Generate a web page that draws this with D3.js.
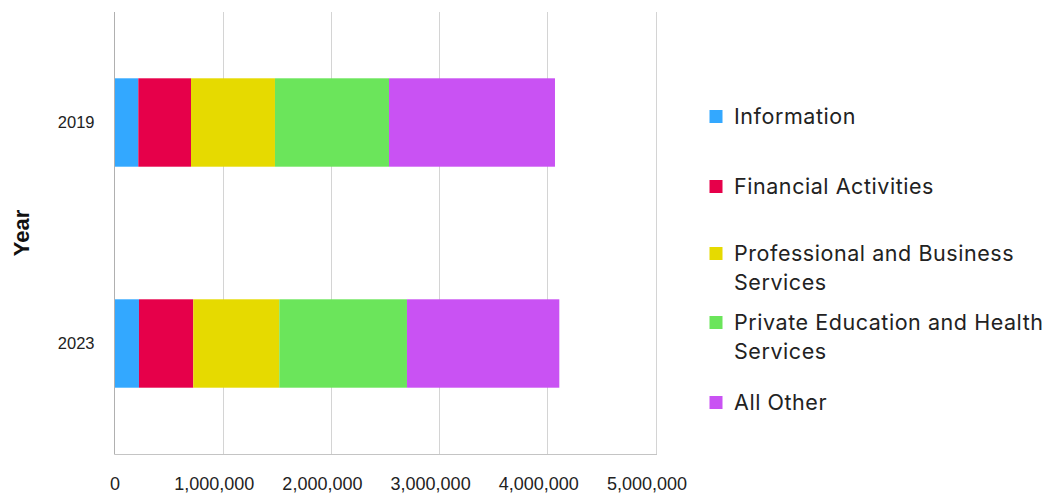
<!DOCTYPE html>
<html>
<head>
<meta charset="utf-8">
<script src="https://cdn.jsdelivr.net/npm/d3@7"></script>
<style>
  html, body { margin: 0; padding: 0; background: #fff; }
  svg { display: block; }
</style>
</head>
<body>
<svg id="chart" width="1049" height="494"></svg>
<script>
// ---- data ----
const years = ["2019", "2023"];
const seriesNames = [
  "Information",
  "Financial Activities",
  "Professional and Business Services",
  "Private Education and Health Services",
  "All Other"
];
const information        = [220000, 226000];
const financialActivities = [487000, 502000];
const professionalBusiness = [776000, 795000];
const educationHealth     = [1054000, 1180000];
const allOther            = [1534000, 1408000];
const xTicks = [0, 1000000, 2000000, 3000000, 4000000, 5000000];
const colors = ["#33a8ff", "#e6004a", "#e6da00", "#6be55b", "#c952f3"];

const seriesValues = [information, financialActivities, professionalBusiness, educationHealth, allOther];
const table = years.map((yr, i) => {
  const row = { year: yr };
  seriesNames.forEach((s, j) => row[s] = seriesValues[j][i]);
  return row;
});

// ---- layout ----
const svg = d3.select("#chart");
const mLeft = 114.5, mRight = 655.5, mTop = 12, mBottom = 454;

const x = d3.scaleLinear().domain([0, 5000000]).range([mLeft, mRight]);
const y = d3.scaleBand().domain(years).range([mTop, mBottom]).paddingInner(0.6).paddingOuter(0.3);
const color = d3.scaleOrdinal().domain(seriesNames).range(colors);

// gridlines
svg.append("g")
  .selectAll("line")
  .data(xTicks.slice(1))
  .join("line")
  .attr("x1", d => Math.round(x(d)) + 0.5)
  .attr("x2", d => Math.round(x(d)) + 0.5)
  .attr("y1", mTop)
  .attr("y2", mBottom)
  .attr("stroke", "#d4d4d4")
  .attr("stroke-width", 1);

// stacked bars
const stack = d3.stack().keys(seriesNames)(table);
svg.append("g")
  .selectAll("g")
  .data(stack)
  .join("g")
  .attr("fill", d => color(d.key))
  .selectAll("rect")
  .data(d => d)
  .join("rect")
  .attr("x", d => x(d[0]))
  .attr("width", d => x(d[1]) - x(d[0]))
  .attr("y", d => y(d.data.year))
  .attr("height", y.bandwidth());

// axis lines
svg.append("line")
  .attr("x1", mLeft).attr("x2", mLeft)
  .attr("y1", mTop).attr("y2", mBottom + 0.5)
  .attr("stroke", "#b0b0b0").attr("stroke-width", 1);
svg.append("line")
  .attr("x1", mLeft).attr("x2", Math.round(mRight) + 1)
  .attr("y1", mBottom + 0.5).attr("y2", mBottom + 0.5)
  .attr("stroke", "#c4c4c4").attr("stroke-width", 1);

// x axis labels
const xAxis = d3.axisBottom(x).tickValues(xTicks).tickSize(0).tickPadding(0)
  .tickFormat(d3.format(","));
const gx = svg.append("g").attr("transform", `translate(0,${mBottom})`).call(xAxis);
gx.select(".domain").remove();
gx.selectAll("text")
  .attr("y", 36)
  .attr("dy", 0)
  .attr("dx", d => d === 0 ? 0 : -9)
  .attr("fill", "#222")
  .style("font-family", "'Liberation Sans', Arial, Helvetica, sans-serif")
  .style("font-size", "18px");

// y axis labels
const yAxis = d3.axisLeft(y).tickSize(0).tickPadding(0);
const gy = svg.append("g").attr("transform", `translate(${mLeft - 20},0)`).call(yAxis);
gy.select(".domain").remove();
gy.selectAll("text")
  .attr("dy", "0.35em")
  .attr("fill", "#222")
  .style("font-family", "'Liberation Sans', Arial, Helvetica, sans-serif")
  .style("font-size", "16.5px");

// y title
svg.append("text")
  .attr("transform", `translate(28.5,${(mTop + mBottom) / 2}) rotate(-90)`)
  .attr("text-anchor", "middle")
  .attr("fill", "#111")
  .style("font-family", "'Liberation Sans', Arial, Helvetica, sans-serif")
  .style("font-weight", "bold")
  .style("font-size", "22px")
  .text("Year");

// legend
const legendBaselines = [124, 194, 261, 330, 410];
const legendX = 709.5, textX = 734, lineH = 29, maxW = 1049 - 734 - 1;
const legend = svg.append("g");
seriesNames.forEach((name, i) => {
  const g = legend.append("g");
  g.append("rect")
    .attr("x", legendX).attr("y", legendBaselines[i] - 14)
    .attr("width", 13).attr("height", 13)
    .attr("fill", color(name));
  const t = g.append("text")
    .attr("x", textX).attr("y", legendBaselines[i])
    .attr("fill", "#222")
    .style("font-family", "Inter, 'Noto Sans', sans-serif")
    .style("font-size", "21.5px")
    .style("letter-spacing", "0.55px");
  // word wrap
  const words = name.split(" ");
  let line = [];
  let tspan = t.append("tspan").attr("x", textX).attr("dy", 0);
  words.forEach(w => {
    line.push(w);
    tspan.text(line.join(" "));
    if (tspan.node().getComputedTextLength() > maxW && line.length > 1) {
      line.pop();
      tspan.text(line.join(" "));
      line = [w];
      tspan = t.append("tspan").attr("x", textX).attr("dy", lineH).text(w);
    }
  });
});
</script>
</body>
</html>
